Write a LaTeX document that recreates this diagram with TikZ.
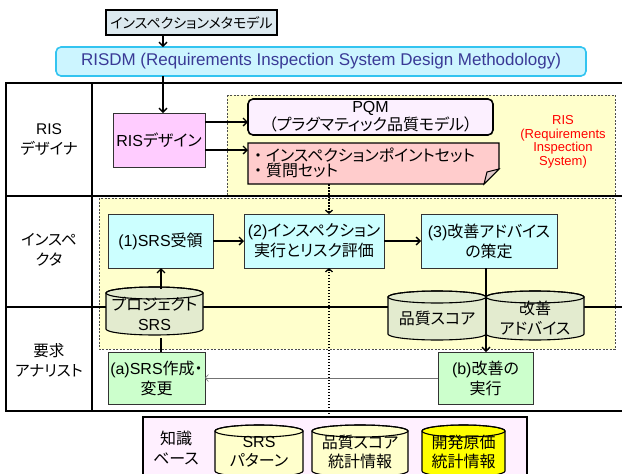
\documentclass[tikz,border=0pt]{standalone}
\usepackage{fontspec}
\setmainfont{Liberation Sans}
\newfontfamily\jp[RawFeature={+palt}]{Noto Sans CJK JP}
\newfontfamily\jpfull{Noto Sans CJK JP}
\usetikzlibrary{arrows.meta,calc}
\definecolor{metafill}{HTML}{DCE9EF}
\definecolor{risdmfill}{HTML}{CCF5FF}
\definecolor{risdmline}{HTML}{33C4F0}
\definecolor{risdmtext}{HTML}{3A3A96}
\definecolor{regfill}{HTML}{FFFFCC}
\definecolor{pinkfill}{HTML}{FFCCFF}
\definecolor{pqmfill}{HTML}{FCF0FF}
\definecolor{ptfill}{HTML}{FFCCCC}
\definecolor{cyanfill}{HTML}{CCFFFF}
\definecolor{cylgreen}{HTML}{E3EBCF}
\definecolor{greenfill}{HTML}{CCFFCC}
\definecolor{kbfill}{HTML}{FFF0FF}
\definecolor{kbcyl}{HTML}{FFFFCC}
\definecolor{kbyellow}{HTML}{FFFF00}

\newcommand\cylshape[6]{% x, y (top), w, h, ry, fill
  \path[draw=black, line width=1.1pt, fill=#6]
    (#1,{#2+#5}) -- (#1,{#2+#4-#5})
    arc[start angle=180, end angle=360, x radius={#3/2*1pt}, y radius={#5*1pt}]
    -- ({#1+#3},{#2+#5})
    arc[start angle=0, end angle=180, x radius={#3/2*1pt}, y radius={#5*1pt}] -- cycle;
  \draw[black, line width=1.1pt] ({#1+#3/2},{#2+#5}) ellipse[x radius={#3/2*1pt}, y radius={#5*1pt}];
}

\begin{document}
\begin{tikzpicture}[x=1pt,y=-1pt,
  every node/.style={inner sep=0pt, outer sep=0pt, align=center},
  f16/.style={font=\fontsize{16}{20}\selectfont},
  boxthin/.style={draw=black!80, line width=0.8pt},
  arr/.style={draw=black, line width=1.6pt, -{Straight Barb[length=4pt,width=8pt,line width=1.4pt]}},
  dotarr/.style={draw=black, line width=1.5pt, dash pattern=on 1.5pt off 1.5pt, -{Straight Barb[length=3pt,width=7pt,line width=1.3pt]}},
  tab/.style={draw=black, line width=1.1pt},
  reg/.style={fill=regfill, draw=black!70, line width=0.8pt, dash pattern=on 2pt off 1.5pt},
  rowlab/.style={font=\fontsize{15.5}{20}\selectfont\jp},
]
\useasboundingbox (0,0) rectangle (622,474);
\clip (0,0) rectangle (622,474);

% RIS regions
\path[reg] (227,95) rectangle (615,196);
\path[reg] (99,198) rectangle (615,349);

% swimlane table
\draw[tab] (622,83) -- (6,83) -- (6,411) -- (622,411);
\draw[tab] (92,83) -- (92,411);
\draw[tab] (6,196) -- (622,196);
\draw[tab] (6,307) -- (622,307);

\node[rowlab] (lab1) at (49,140) {{\rmfamily RIS}\\デザイナ};
\node[rowlab] (lab2) at (49,250) {インスペ\\クタ};
\node[rowlab] (lab3) at (49,360) {要求\\アナリスト};

% top boxes
\node[draw=black, line width=1.2pt, fill=metafill, minimum width=171pt, minimum height=25pt,
      font=\fontsize{14}{15}\selectfont\jp] (meta) at (191.5,22.5) {インスペクションメタモデル};
\node[draw=risdmline, line width=1.6pt, fill=risdmfill, rounded corners=5pt, minimum width=530pt,
      minimum height=29pt, text=risdmtext, font=\fontsize{17}{20}\selectfont] (risdm) at (321,61.5)
      {RISDM (Requirements Inspection System Design Methodology)};
\coordinate (ax) at (163,0);
\draw[arr] (meta.south -| ax) -- (risdm.north -| ax);

% RIS designer row
\node[boxthin, fill=pinkfill, minimum width=92pt, minimum height=54pt, f16] (risd) at (159,140)
      {RIS{\jp デザイン}};
\draw[arr] (risdm.south -| ax) -- (risd.north -| ax);
\node[draw=black, line width=1.6pt, fill=pqmfill, rounded corners=5pt, minimum width=245pt,
      minimum height=36pt, font=\fontsize{16}{15}\selectfont] (pqm) at (370.5,117)
      {PQM\\{\jp （プラグマティック品質モデル）}};
\path[draw=black, line width=1.2pt, fill=ptfill]
  (248,143) -- (499,143) -- (499,169) -- (484,184) -- (248,184) -- cycle;
\path[draw=black, line width=1.0pt, fill=ptfill!80!black!60]
  (499,169) -- (484,184) -- (487,172) -- cycle;
\node[minimum width=251pt, minimum height=41pt] (ptset) at (373.5,163.5) {};
\node[anchor=west, align=left, font=\fontsize{16}{14.5}\selectfont\jp] (pttext) at (250,163)
      {{\jpfull ・}インスペクションポイントセット\\{\jpfull ・}質問セット};
\coordinate (a1) at (0,122);
\coordinate (a2) at (0,150);
\draw[arr] (risd.east |- a1) -- (pqm.west |- a1);
\draw[arr] (risd.east |- a2) -- (ptset.west |- a2);
\node[text=red, font=\fontsize{13}{13.5}\selectfont] (ristxt) at (563,142)
      {RIS\\(Requirements\\Inspection\\System)};

% inspector row
\node[boxthin, fill=cyanfill, minimum width=105pt, minimum height=54pt, f16] (n1) at (160.5,241)
      {(1)SRS{\jp 受領}};
\node[boxthin, fill=cyanfill, minimum width=140pt, minimum height=54pt, f16] (n2) at (314,241)
      {(2){\jp インスペクション}\\{\jp 実行とリスク評価}};
\node[boxthin, fill=cyanfill, minimum width=136pt, minimum height=54pt, f16] (n3) at (489,241)
      {(3){\jp 改善アドバイス}\\{\jp の策定}};
\draw[arr] (n1) -- (n2);
\draw[arr] (n2) -- (n3);

\cylshape{106}{287}{97}{48}{6}{cylgreen}
\node[minimum width=97pt, minimum height=48pt, f16] (srs) at (154.5,314) {{\jp プロジェクト}\\SRS};
\cylshape{388}{291}{98}{49}{6}{cylgreen}
\node[minimum width=98pt, minimum height=49pt, f16] (qs) at (437,318) {{\jp 品質スコア}};
\cylshape{486}{291}{98}{49}{6}{cylgreen}
\node[minimum width=98pt, minimum height=49pt, f16] (adv) at (535,318) {{\jp 改善}\\{\jp アドバイス}};

% analyst row
\node[boxthin, fill=greenfill, minimum width=97pt, minimum height=52pt, f16] (na) at (156.5,378)
      {(a)SRS{\jp 作成・}\\{\jp 変更}};
\node[boxthin, fill=greenfill, minimum width=95pt, minimum height=52pt, f16] (nb) at (485.5,378)
      {(b){\jp 改善の}\\{\jp 実行}};

\coordinate (cx1) at (161,0);
\draw[arr] (srs.north -| cx1) ++(0,-1) -- (n1.south -| cx1);
\draw[black, line width=1.1pt] (srs.south -| cx1) -- (na.north -| cx1);
\coordinate (cx3) at (486,0);
\draw[arr] (n3.south -| cx3) -- (nb.north -| cx3);
\draw[draw=black!55, line width=0.6pt, -{Straight Barb[length=3pt,width=7pt]}] (nb.west) -- (na.east);

% knowledge base
\node[draw=black, line width=1.6pt, fill=kbfill, minimum width=384pt, minimum height=70pt] (kb) at (335,452) {};
\node[font=\fontsize{16}{20}\selectfont\jp] (kbl) at (176,448) {知識\\ベース};
\cylshape{215}{425}{88}{52}{6}{kbcyl}
\node[minimum width=88pt, minimum height=48pt, font=\fontsize{16}{19}\selectfont] (c1) at (259,452) {SRS\\{\jp パターン}};
\cylshape{312}{425}{96}{52}{6}{kbcyl}
\node[minimum width=96pt, minimum height=48pt, font=\fontsize{16}{19}\selectfont\jp] (c2) at (360,452) {品質スコア\\統計情報};
\cylshape{422}{425}{83}{52}{6}{kbyellow}
\node[minimum width=83pt, minimum height=48pt, font=\fontsize{16}{19}\selectfont\jp] (c3) at (463.5,452) {開発原価\\統計情報};

% dotted flows
\coordinate (dx) at (329,0);
\draw[dotarr] (ptset.south -| dx) -- (n2.north -| dx);
\draw[dotarr] (kb.north -| dx) -- (n2.south -| dx);
\end{tikzpicture}
\end{document}
